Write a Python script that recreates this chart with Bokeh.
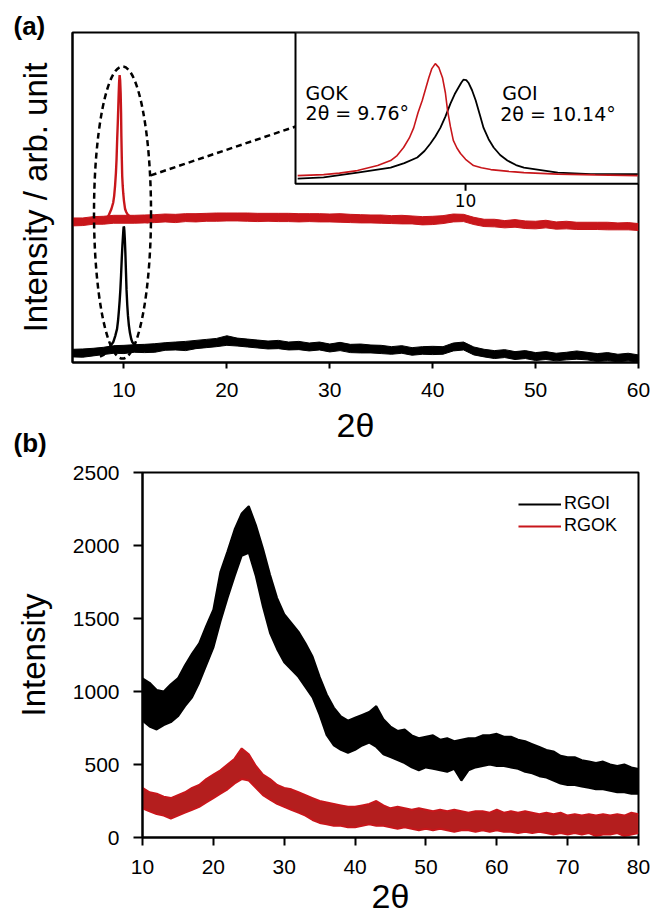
from bokeh.plotting import figure
from bokeh.models import Range1d, FixedTicker, Title, Legend, LegendItem, ColumnDataSource
from bokeh.layouts import column
from bokeh.transform import dodge
from bokeh.embed import file_html
from bokeh.resources import INLINE
from bokeh.core.properties import value

# ---------------- data: panel (a) ----------------
theta_a = list(range(5, 61))
goi_lo = [1.7, 1.6, 2.0, 2.4, 2.8, 2.7, 3.1, 3.0, 3.1, 3.7, 3.8, 3.6, 4.2, 4.5, 4.8, 5.2, 5.0, 4.7, 4.4, 4.1,
          4.2, 3.8, 3.9, 3.5, 3.8, 3.2, 3.6, 3.0, 2.9, 2.9, 2.7, 2.5, 2.8, 2.2, 2.5, 2.4, 2.5, 3.5, 3.8, 2.3,
          1.7, 1.2, 1.5, 0.9, 1.2, 0.6, 0.9, 0.5, 0.8, 1.0, 0.8, 0.3, 0.6, 0.2, 0.5, 0.1]
goi_hi = [4.0, 4.1, 4.3, 4.6, 5.1, 5.2, 5.4, 5.5, 5.7, 6.0, 6.2, 6.4, 6.7, 7.0, 7.3, 8.1, 7.4, 7.1, 6.8, 6.5,
          6.7, 6.2, 6.4, 5.9, 6.2, 5.6, 6.1, 5.5, 5.6, 5.3, 5.2, 4.8, 5.1, 4.5, 4.8, 4.9, 4.8, 5.9, 6.2, 4.7,
          4.0, 3.6, 3.9, 3.3, 3.6, 3.0, 3.3, 2.8, 3.1, 3.5, 3.1, 2.7, 3.0, 2.5, 2.8, 2.3]
gok_lo = [1.9, 2.0, 2.4, 2.4, 2.7, 2.7, 2.7, 2.8, 2.9, 3.1, 2.9, 3.2, 3.1, 3.3, 3.3, 3.4, 3.4, 3.3, 3.2, 3.3,
          3.2, 3.2, 3.1, 3.2, 3.1, 3.1, 3.0, 2.9, 2.8, 2.8, 2.7, 2.6, 2.5, 2.5, 2.2, 2.3, 2.6, 3.1, 3.2, 2.3,
          1.7, 1.6, 1.3, 1.5, 1.1, 1.0, 1.3, 0.9, 1.0, 0.8, 0.8, 0.8, 0.7, 0.7, 0.7, 0.5]
gok_hi = [4.3, 4.3, 4.7, 4.8, 5.1, 5.1, 5.1, 5.2, 5.3, 5.5, 5.4, 5.6, 5.6, 5.7, 5.8, 5.8, 5.8, 5.8, 5.7, 5.7,
          5.7, 5.7, 5.6, 5.6, 5.6, 5.5, 5.6, 5.4, 5.3, 5.2, 5.2, 5.0, 5.1, 4.9, 4.7, 4.8, 5.0, 5.5, 5.4, 4.5,
          3.9, 3.9, 3.5, 3.8, 3.4, 3.3, 3.6, 3.1, 3.3, 3.0, 3.0, 3.0, 3.0, 2.8, 2.9, 2.6]

gok_peak_x = [7.67, 8.03, 8.25, 8.5, 8.78, 8.96, 9.05, 9.14, 9.22, 9.28, 9.34, 9.40, 9.45, 9.49, 9.53, 9.58,
              9.63, 9.68, 9.72, 9.75, 9.79, 9.83, 9.88, 9.93, 10.0, 10.11, 10.22, 10.35, 10.6, 10.81, 11.28,
              11.8, 12.39]
gok_peak_i = [3.0, 3.4, 4.0, 5.0, 7.0, 9.0, 11.0, 14.2, 18.0, 22.0, 28.0, 33.0, 38.0, 42.0, 45.5, 47.6,
              46.0, 42.0, 36.0, 29.0, 22.5, 17.0, 14.0, 11.8, 9.5, 7.0, 6.1, 5.4, 4.7, 4.2, 3.6, 3.3, 3.0]
goi_peak_x = [7.67, 8.03, 8.5, 8.96, 9.15, 9.33, 9.43, 9.51, 9.58, 9.65, 9.72, 9.79, 9.85, 9.90, 9.94, 9.97,
              10.01, 10.04, 10.09, 10.14, 10.2, 10.25, 10.32, 10.39, 10.48, 10.58, 10.7, 10.81, 11.28, 11.74,
              12.39]
goi_peak_i = [1.8, 2.3, 4.2, 6.2, 8.0, 10.2, 12.8, 15.7, 18.6, 22.0, 26.5, 31.7, 35.5, 38.0, 40.0, 41.2,
              41.0, 40.0, 37.0, 33.0, 27.0, 22.0, 17.5, 14.2, 11.2, 9.0, 7.2, 6.2, 4.2, 3.6, 3.6]

a_ticks = [10, 20, 30, 40, 50, 60]
inset_ticks = [10]
inset_tick_labels = ["10"]
inset_names = ["GOK", "GOI"]
inset_angles = ["2\u03b8 = 9.76\u00b0", "2\u03b8 = 10.14\u00b0"]

# ---------------- data: panel (b) ----------------
theta_b = list(range(10, 81))
rgoi_lo = [800, 760, 740, 770, 790, 830, 900, 960, 1060, 1180, 1300, 1480, 1640, 1790, 1930, 1950, 1790, 1580,
           1400, 1290, 1200, 1150, 1100, 1030, 960, 840, 700, 630, 600, 580, 600, 630, 650, 620, 570, 550,
           530, 510, 480, 460, 480, 470, 460, 450, 470, 390, 460, 480, 490, 500, 490, 490, 480, 470, 450,
           440, 420, 410, 390, 370, 360, 360, 350, 340, 330, 330, 320, 310, 310, 300, 300]
rgoi_hi = [1090, 1060, 1010, 1000, 1050, 1090, 1180, 1260, 1330, 1450, 1560, 1820, 1960, 2110, 2220, 2270,
           2140, 1980, 1800, 1640, 1530, 1470, 1410, 1330, 1240, 1100, 980, 890, 830, 800, 820, 840, 860, 900,
           810, 760, 730, 740, 700, 680, 690, 700, 670, 680, 660, 670, 680, 680, 700, 700, 710, 690, 690, 670,
           660, 640, 620, 600, 590, 560, 550, 550, 530, 520, 510, 520, 500, 490, 500, 480, 470]
rgok_lo = [200, 180, 160, 150, 130, 150, 170, 190, 210, 240, 270, 300, 330, 370, 400, 390, 340, 290, 260, 230,
           210, 190, 170, 150, 120, 100, 90, 80, 80, 70, 70, 80, 90, 80, 80, 70, 60, 70, 60, 50, 60, 50, 60,
           50, 40, 50, 50, 40, 50, 40, 50, 40, 40, 30, 40, 30, 40, 30, 20, 30, 20, 30, 20, 30, 10, 20, 20, 30,
           10, 20, 30]
rgok_hi = [340, 310, 300, 280, 270, 290, 310, 340, 360, 400, 430, 460, 500, 540, 610, 570, 490, 430, 400, 360,
           340, 330, 310, 290, 270, 250, 240, 230, 220, 210, 210, 220, 230, 250, 220, 200, 210, 200, 190, 200,
           190, 180, 190, 180, 190, 180, 170, 180, 180, 170, 190, 170, 180, 170, 180, 170, 160, 170, 160, 170,
           150, 160, 150, 160, 150, 160, 150, 160, 150, 170, 160]
b_xticks = [10, 20, 30, 40, 50, 60, 70, 80]
b_yticks = [0, 500, 1000, 1500, 2000, 2500]
b_names = ["RGOI", "RGOK"]

# ---------------- styles / layout constants ----------------
RED = "#c8161b"
RED_FILL = "#b41e1e"
FONT = "Liberation Sans"
GOK_OFFSET = 39.5          # vertical stacking offset of GOK trace in (a)

def style_axes(p, xticks, yticks):
    p.xgrid.visible = False
    p.ygrid.visible = False
    p.outline_line_color = "black"
    p.outline_line_width = 2
    p.outline_line_alpha = 1
    p.frame_align = False
    for ax in (p.xaxis[0], p.yaxis[0]):
        ax.axis_line_width = 2
        ax.major_tick_line_width = 2
        ax.minor_tick_line_color = None
        ax.major_tick_in = 0
        ax.major_label_text_font = FONT
        ax.major_label_text_font_size = "21px"
        ax.major_label_text_color = "black"
        ax.axis_label_text_font = FONT
        ax.axis_label_text_font_style = "normal"
        ax.axis_label_text_color = "black"
    p.xaxis.ticker = FixedTicker(ticks=xticks)
    p.yaxis.ticker = FixedTicker(ticks=yticks)

# ================= panel (a) =================
p1 = figure(frame_width=566, frame_height=330, x_range=Range1d(5, 60), y_range=Range1d(0, 100),
            min_border_left=72, min_border_right=13, min_border_top=32, min_border_bottom=98,
            output_backend="svg", toolbar_location=None, title=None)
style_axes(p1, a_ticks, [])
p1.xaxis.major_tick_out = 6
p1.xaxis.major_label_standoff = 14
p1.xaxis.axis_label = "2\u03b8"
p1.xaxis.axis_label_text_font_size = "34px"
p1.xaxis.axis_label_standoff = 6
p1.yaxis.major_tick_out = 0
p1.yaxis.major_label_standoff = 0
p1.yaxis.axis_label = "Intensity / arb. unit"
p1.yaxis.axis_label_text_font_size = "33px"
p1.yaxis.axis_label_standoff = 19

p1.add_layout(Title(text="(a)", align="left", offset=-59, standoff=-16, text_font=FONT,
                    text_font_style="bold", text_font_size="26px", text_color="black"), "above")
p1.add_layout(Title(text="(b)", align="left", offset=-59, standoff=-38, vertical_align="top",
                    text_font=FONT, text_font_style="bold", text_font_size="26px",
                    text_color="black"), "below")

src_goi = ColumnDataSource(dict(x=theta_a, lo=goi_lo, hi=goi_hi))
src_gok = ColumnDataSource(dict(x=theta_a, lo=gok_lo, hi=gok_hi))
src_gok_pk = ColumnDataSource(dict(x=gok_peak_x, y=gok_peak_i))
src_goi_pk = ColumnDataSource(dict(x=goi_peak_x, y=goi_peak_i))

p1.varea(x="x", y1="lo", y2="hi", source=src_goi, fill_color="black")
p1.line(x="x", y="lo", source=src_goi, line_color="black", line_width=1)
p1.line(x="x", y="hi", source=src_goi, line_color="black", line_width=1)
p1.varea(x="x", y1=dodge("lo", GOK_OFFSET), y2=dodge("hi", GOK_OFFSET), source=src_gok, fill_color=RED)
p1.line(x="x", y=dodge("lo", GOK_OFFSET), source=src_gok, line_color=RED, line_width=1)
p1.line(x="x", y=dodge("hi", GOK_OFFSET), source=src_gok, line_color=RED, line_width=1)
p1.line(x="x", y="y", source=src_goi_pk, line_color="black", line_width=2.4)
p1.line(x="x", y=dodge("y", GOK_OFFSET), source=src_gok_pk, line_color=RED, line_width=2.4)

# dashed ellipse and connector
p1.ellipse(x=[9.86], y=[45.45], width=[5.54], height=[88.5], fill_color=None,
           line_color="black", line_width=2.5, line_dash="6 4")
p1.segment(x0=[12.6], y0=[56.7], x1=[26.67], y1=[71.5], line_color="black", line_width=2.5, line_dash="6 4")

# inset placed in the upper right part of the frame
ix0, ix1 = 7.64, 12.40
iy0, iy1 = -0.2, 60.0
bx0, by0 = 26.67, 54.2
fx = (bx0 - 5) / (60 - 5)
fy = (by0 - 0) / (100 - 0)
p1.extra_x_ranges = {"ix": Range1d(ix0 - (ix1 - ix0) * fx / (1 - fx), ix1)}
p1.extra_y_ranges = {"iy": Range1d(iy0 - (iy1 - iy0) * fy / (1 - fy), iy1)}
kw = dict(x_range_name="ix", y_range_name="iy")
p1.quad(left=[ix0], right=[ix1], bottom=[iy0], top=[iy1], fill_color="white",
        line_color="black", line_width=2, **kw)
p1.line(x="x", y="y", source=src_goi_pk, line_color="black", line_width=1.8, **kw)
p1.line(x="x", y="y", source=src_gok_pk, line_color=RED, line_width=1.6, **kw)
p1.segment(x0=inset_ticks, y0=[iy0], x1=inset_ticks, y1=[iy0 - 2.8], line_color="black", line_width=2, **kw)
p1.text(x=inset_ticks, y=[iy0 - 4.0], text=inset_tick_labels, text_font=value("DejaVu Sans"),
        text_font_size="17px", text_align="center", text_baseline="top", **kw)
p1.text(x=[7.78, 10.51], y=[36.1, 36.1], text=inset_names, text_font=value("DejaVu Sans"),
        text_font_size="19px", text_baseline="alphabetic", **kw)
p1.text(x=[7.78, 10.48], y=[28.1, 27.7], text=inset_angles, text_font=value("DejaVu Sans"),
        text_font_size="19px", text_baseline="alphabetic", **kw)

# ================= panel (b) =================
p2 = figure(frame_width=496, frame_height=365, x_range=Range1d(10, 80), y_range=Range1d(0, 2500),
            min_border_left=142, min_border_right=13, min_border_top=12, min_border_bottom=79,
            output_backend="svg", toolbar_location=None, title=None)
style_axes(p2, b_xticks, b_yticks)
p2.xaxis.major_tick_out = 8
p2.yaxis.major_tick_out = 9
p2.xaxis.major_label_standoff = 14
p2.yaxis.major_label_standoff = 14
p2.xaxis.axis_label = "2\u03b8"
p2.xaxis.axis_label_text_font_size = "34px"
p2.xaxis.axis_label_standoff = 0
p2.yaxis.axis_label = "Intensity"
p2.yaxis.axis_label_text_font_size = "33px"
p2.yaxis.axis_label_standoff = 18

src_rgoi = ColumnDataSource(dict(x=theta_b, lo=rgoi_lo, hi=rgoi_hi))
src_rgok = ColumnDataSource(dict(x=theta_b, lo=rgok_lo, hi=rgok_hi))
p2.varea(x="x", y1="lo", y2="hi", source=src_rgoi, fill_color="black")
p2.line(x="x", y="lo", source=src_rgoi, line_color="black", line_width=2)
r_rgoi = p2.line(x="x", y="hi", source=src_rgoi, line_color="black", line_width=2)
p2.varea(x="x", y1="lo", y2="hi", source=src_rgok, fill_color=RED_FILL)
p2.line(x="x", y="lo", source=src_rgok, line_color=RED, line_width=2)
r_rgok = p2.line(x="x", y="hi", source=src_rgok, line_color=RED, line_width=2)

legend = Legend(items=[LegendItem(label=b_names[0], renderers=[r_rgoi]),
                       LegendItem(label=b_names[1], renderers=[r_rgok])],
                location="top_right", border_line_color=None, background_fill_alpha=0,
                glyph_width=43, glyph_height=20, label_standoff=3, spacing=1, padding=0, margin=21,
                label_text_font=FONT, label_text_font_size="18px", label_text_color="black",
                label_height=20)
p2.add_layout(legend)

layout = column(p1, p2, spacing=0)
open("out.html", "w").write(file_html(layout, INLINE))
